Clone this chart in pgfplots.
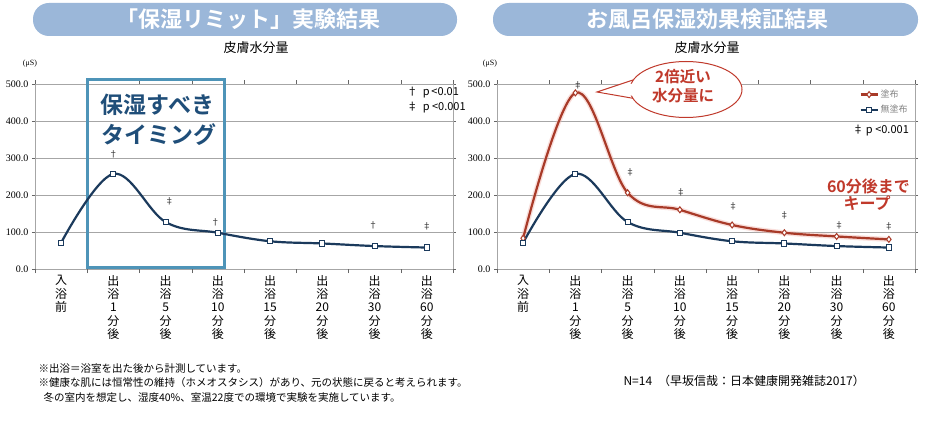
\documentclass[border=0pt]{standalone}
\usepackage{pgfplots}
\pgfplotsset{compat=1.18}
\usepackage{fontspec}
\setmainfont{Noto Sans CJK JP}[BoldFont={Noto Sans CJK JP Bold}]
\newfontfamily\tnr{Liberation Serif}
\definecolor{banner}{HTML}{9BB7D9}
\definecolor{blueline}{HTML}{1B3A5C}
\definecolor{redline}{HTML}{A83A28}
\definecolor{redglow}{HTML}{F2B8B0}
\definecolor{boxblue}{HTML}{4E94B8}
\definecolor{boxtext}{HTML}{1F4E79}
\definecolor{callred}{HTML}{C0392B}
\definecolor{gridc}{HTML}{A6A6A6}

\pgfplotstableread{
x v
0 71
1 257
2 127
3 98
4 75
5 69
6 62
7 58
}\blueA
\pgfplotstableread{
x v
0 83
1 476
2 206
3 160
4 119
5 98
6 88
7 80
}\redB

\pgfplotsset{
  common/.style={
    scale only axis, width=418pt, height=185pt,
    anchor=south west,
    xmin=-0.5, xmax=7.5, ymin=0, ymax=500,
    xtick={0,...,7},
    xticklabels={{入\\浴\\前},{出\\浴\\1\\分\\後},{出\\浴\\5\\分\\後},{出\\浴\\10\\分\\後},{出\\浴\\15\\分\\後},{出\\浴\\20\\分\\後},{出\\浴\\30\\分\\後},{出\\浴\\60\\分\\後}},
    xticklabel style={align=center, font=\fontsize{12}{13.2}\selectfont, anchor=north, yshift=-3pt},
    x tick style={draw=none},
    extra x ticks={-0.5,0.5,...,7.5},
    extra x tick labels={},
    extra x tick style={grid=none, major tick length=4pt, tick align=outside, x tick style={draw=gray!80!black}},
    ytick={0,100,...,500},
    yticklabel style={font=\tnr\fontsize{10}{10}\selectfont, /pgf/number format/.cd, fixed, fixed zerofill, precision=1, assume math mode=true},
    y tick style={draw=gray!80!black},
    ytick align=outside, major tick length=3pt,
    ymajorgrids, major grid style={gridc, line width=0.9pt},
    axis line style={draw=gridc, line width=0.9pt},
    clip=false,
  },
  blueplot/.style={blueline, line width=2.2pt, smooth, tension=0.6, mark=square*, mark size=2.6pt, mark options={fill=white, draw=blueline, line width=1pt}},
  redplot/.style={redline, line width=2.2pt, smooth, tension=0.6, mark=diamond*, mark size=3pt, mark options={fill=white, draw=redline, line width=1pt}},
}

\begin{document}
\begin{tikzpicture}[x=1pt,y=1pt]
\useasboundingbox (0,0) rectangle (940,421);
\fill[white] (0,0) rectangle (940,421);

% banners
\fill[banner, rounded corners=16pt] (33,385) rectangle (457,418);
\node[text=white, font=\bfseries\fontsize{22}{22}\selectfont] at (248,402) {「保湿リミット」実験結果};
\fill[banner, rounded corners=16pt] (493,385) rectangle (918,418);
\node[text=white, font=\bfseries\fontsize{22}{22}\selectfont] at (707,402) {お風呂保湿効果検証結果};

% subtitles
\node[font=\fontsize{13}{13}\selectfont] at (256,373) {皮膚水分量};
\node[font=\fontsize{13}{13}\selectfont] at (707,373) {皮膚水分量};
\node[font=\tnr\fontsize{8}{8}\selectfont] at (30,357) {(μS)};
\node[font=\tnr\fontsize{8}{8}\selectfont] at (490,357) {(μS)};

% ---------- left axis ----------
\begin{axis}[common, at={(35pt,152pt)}]
\draw[boxblue, line width=3pt] (axis cs:0.51,5) rectangle (axis cs:3.13,513);
\addplot[blueplot] table[x=x, y=v] {\blueA};
\node[font=\fontsize{9}{9}\selectfont, text=black!80] at (axis cs:1,310) {†};
\node[font=\fontsize{9}{9}\selectfont, text=black!80] at (axis cs:2.07,182) {‡};
\node[font=\fontsize{9}{9}\selectfont, text=black!80] at (axis cs:2.95,127) {†};
\node[font=\fontsize{9}{9}\selectfont, text=black!80] at (axis cs:5.97,118) {†};
\node[font=\fontsize{9}{9}\selectfont, text=black!80] at (axis cs:7,116) {‡};
\node[font=\fontsize{11}{11}\selectfont, anchor=west] at (axis cs:6.55,477) {† \ p\,<0.01};
\node[font=\fontsize{11}{11}\selectfont, anchor=west] at (axis cs:6.55,436) {‡ \ p <0.001};
\node[font=\bfseries\fontsize{23}{23}\selectfont, text=boxtext, anchor=east] at (axis cs:3.0,444) {保湿すべき};
\node[font=\bfseries\fontsize{23}{23}\selectfont, text=boxtext, anchor=east] at (axis cs:3.05,364) {タイミング};
\end{axis}

% ---------- right axis ----------
\begin{axis}[common, at={(497pt,152pt)},
  legend style={at={(rel axis cs:0.995,0.99)}, anchor=north east, draw=none, fill=none, font=\fontsize{9}{10}\selectfont, text=gray, row sep=2pt, cells={anchor=west}},
  legend cell align=left]
\addplot[redglow, line width=5pt, smooth, tension=0.6, opacity=0.45, forget plot] table[x=x, y=v] {\redB};
\addplot[redplot] table[x=x, y=v] {\redB};
\addlegendentry{塗布}
\addplot[blueplot] table[x=x, y=v] {\blueA};
\addlegendentry{無塗布}
\node[font=\fontsize{9}{9}\selectfont, text=black!80] at (axis cs:1.05,497) {‡};
\node[font=\fontsize{9}{9}\selectfont, text=black!80] at (axis cs:2.05,262) {‡};
\node[font=\fontsize{9}{9}\selectfont, text=black!80] at (axis cs:3.02,208) {‡};
\node[font=\fontsize{9}{9}\selectfont, text=black!80] at (axis cs:4.02,170) {‡};
\node[font=\fontsize{9}{9}\selectfont, text=black!80] at (axis cs:5.0,145) {‡};
\node[font=\fontsize{9}{9}\selectfont, text=black!80] at (axis cs:6.05,118) {‡};
\node[font=\fontsize{9}{9}\selectfont, text=black!80] at (axis cs:7.0,116) {‡};
\node[font=\fontsize{11}{11}\selectfont, anchor=east] at (axis cs:7.45,373) {‡ p <0.001};
\node[font=\bfseries\fontsize{16}{16}\selectfont, text=callred, anchor=east] at (axis cs:7.47,222) {60分後まで};
\node[font=\bfseries\fontsize{16}{16}\selectfont, text=callred, anchor=east] at (axis cs:7.1,178) {キープ};
\end{axis}

% callout
\filldraw[callred, fill=white, line width=1pt] (597,329) -- (633,341) -- (637,322) -- cycle;
\filldraw[callred, fill=white, line width=1pt] (686,331.5) ellipse [x radius=56, y radius=28];
\fill[white] (602,329) -- (636,338.5) -- (639,324.5) -- cycle;
\node[font=\bfseries\fontsize{15.5}{15.5}\selectfont, text=callred] at (683,344) {2倍近い};
\node[font=\bfseries\fontsize{15.5}{15.5}\selectfont, text=callred] at (683,325) {水分量に};

% footnotes
\node[anchor=west, font=\fontsize{10.5}{10.5}\selectfont] at (35,52) {※出浴＝浴室を出た後から計測しています。};
\node[anchor=west, font=\fontsize{10.5}{10.5}\selectfont] at (35,38) {※健康な肌には恒常性の維持（ホメオスタシス）があり、元の状態に戻ると考えられます。};
\node[anchor=west, font=\fontsize{10.5}{10.5}\selectfont] at (35,23) {\hspace{5pt}冬の室内を想定し、湿度40\%、室温22度での環境で実験を実施しています。};
\node[anchor=west, font=\fontsize{12}{12}\selectfont] at (620,40) {N=14\hspace{6pt}（早坂信哉：日本健康開発雑誌2017）};
\end{tikzpicture}
\end{document}
